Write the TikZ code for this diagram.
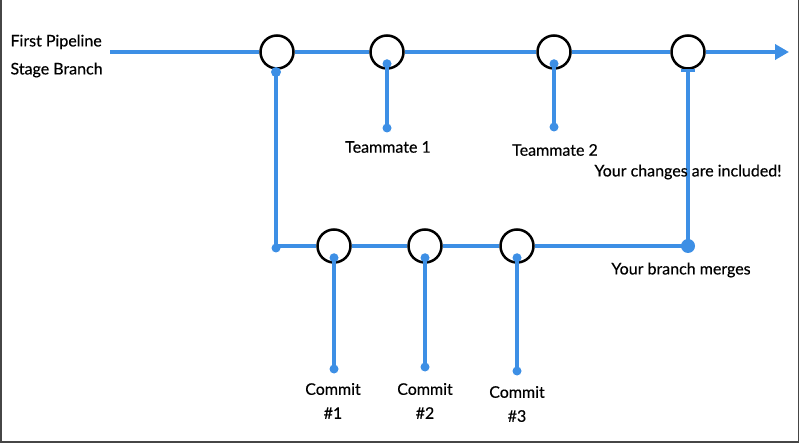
\documentclass[tikz,border=0pt]{standalone}
\usepackage{fontspec}
\setmainfont{Lato}[FakeBold=0.4, AutoFakeBold=0.4]
\usetikzlibrary{arrows.meta}
\definecolor{branchblue}{RGB}{61,143,229}
\definecolor{framegray}{RGB}{70,70,70}

\begin{document}
\begin{tikzpicture}[x=1pt, y=-1pt,
    commit/.style={circle, draw=black, line width=2.5pt, fill=white, minimum size=33pt, inner sep=0pt},
    flow/.style={branchblue, line width=4.5pt},
    lbl/.style={font=\fontsize{16}{24}\selectfont\bfseries, align=center}]
  \useasboundingbox (0,0) rectangle (800,443);
  % frame
  \draw[framegray, line width=1.5pt] (0.75,0) -- (0.75,442.2) -- (798.6,442.2) -- (798.6,0);
  % stage branch circles
  \node[commit] (m1) at (277,52) {};
  \node[commit] (m2) at (387,52) {};
  \node[commit] (m3) at (554,52) {};
  \node[commit] (m4) at (688,52) {};
  % your branch circles
  \node[commit] (b1) at (334,246) {};
  \node[commit] (b2) at (425,246) {};
  \node[commit] (b3) at (517,246) {};
  % free ends
  \coordinate (start) at (110,52);
  \coordinate (end) at (789,52);
  \coordinate (split) at (276,72);
  \coordinate (corner) at (276,246);
  \coordinate (merge) at (688,246);
  \coordinate (back) at (688,71);
  \coordinate (t1) at (387,128);
  \coordinate (t2) at (554,127);
  \coordinate (c1) at (334,369);
  \coordinate (c2) at (425,367);
  \coordinate (c3) at (517,371);
  % stage branch
  \draw[flow, -{Triangle[length=14pt, width=15pt]}] (start) -- (m1) -- (m2) -- (m3) -- (m4) -- (end);
  % your branch
  \draw[flow] (split) -- (corner) -- (b1) -- (b2) -- (b3) -- (merge) -- (back);
  \draw[branchblue, line width=3pt] ([xshift=-7pt]back) -- ([xshift=7pt]back);
  % teammate and commit stems
  \foreach \n/\e in {m2/t1, m3/t2, b1/c1, b2/c2, b3/c3} {
    \draw[flow] ([yshift=6pt]\n.south) -- (\e);
    \fill[branchblue] ([yshift=6pt]\n.south) circle (4.5pt);
    \fill[branchblue] (\e) circle (4.5pt);
  }
  % branch dots
  \fill[branchblue] (split) circle (5pt);
  \fill[branchblue] ([yshift=-2pt]corner) circle (4.5pt);
  \fill[branchblue] (merge) circle (7pt);
  % labels
  \node[lbl, align=left, anchor=west, font=\fontsize{16}{28}\selectfont\bfseries] (stage) at (7,56) {First Pipeline\\Stage Branch};
  \node[lbl] (lt1) at (388,147) {Teammate 1};
  \node[lbl] (lt2) at (555,150) {Teammate 2};
  \node[lbl] (lin) at (688,172) {Your changes are included!};
  \node[lbl] (lmg) at (681,270) {Your branch merges};
  \node[lbl] (lc1) at (333,401) {Commit\\\#1};
  \node[lbl] (lc2) at (425,401) {Commit\\\#2};
  \node[lbl] (lc3) at (517,404) {Commit\\\#3};
\end{tikzpicture}
\end{document}
